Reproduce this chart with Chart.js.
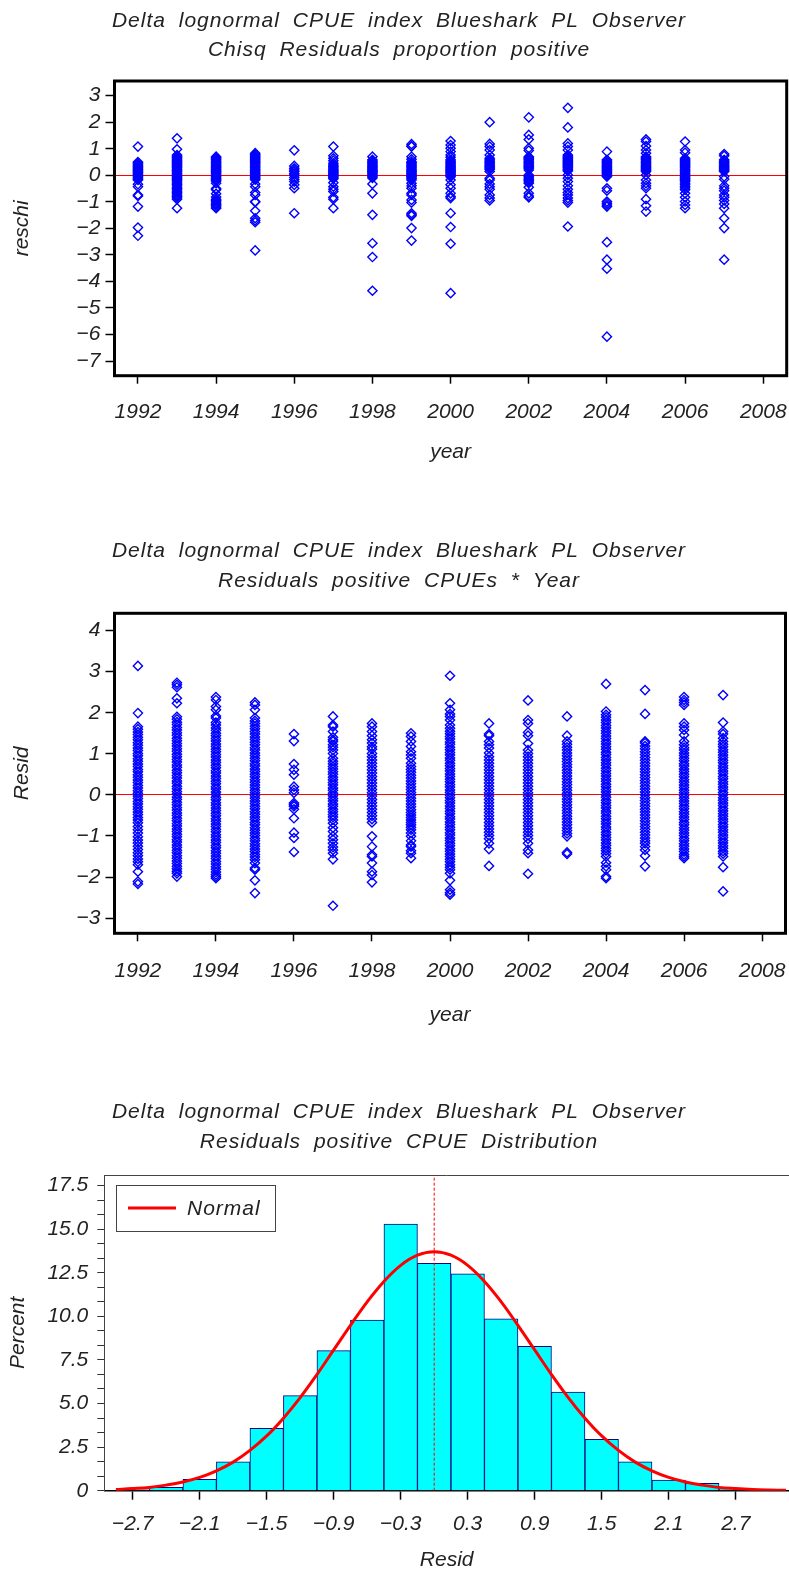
<!DOCTYPE html>
<html>
<head>
<meta charset="utf-8">
<script src="https://cdn.jsdelivr.net/npm/chart.js@4.4.1/dist/chart.umd.min.js"></script>
<style>
  html, body { margin: 0; padding: 0; background: #fff; overflow: hidden; }
  canvas { position: absolute; left: 0; display: block; }
</style>
</head>
<body>
<canvas id="c1" width="789" height="500" style="top:0"></canvas>
<canvas id="c2" width="789" height="560" style="top:500px"></canvas>
<canvas id="c3" width="789" height="513" style="top:1060px"></canvas>
<script>
// ── Data ───────────────────────────────────────────────────────────────
const years = [1992, 1993, 1994, 1995, 1996, 1997, 1998, 1999, 2000, 2001, 2002, 2003, 2004, 2005, 2006, 2007];
const yearTicks = [1992, 1994, 1996, 1998, 2000, 2002, 2004, 2006, 2008];
const reschiTicks = [-7, -6, -5, -4, -3, -2, -1, 0, 1, 2, 3];
const residTicks = [-3, -2, -1, 0, 1, 2, 3, 4];

// Chisq residuals, proportion positive
const reschi1992 = [1.08, 0.50, 0.46, 0.42, 0.38, 0.34, 0.30, 0.26, 0.22, 0.18, 0.14, 0.10, 0.06, 0.02, -0.02, -0.06, -0.10, -0.14, -0.18, -0.34, -0.43, -0.74, -0.78, -1.18, -1.97, -2.28];
const reschi1993 = [1.39, 0.98, 0.76, 0.72, 0.68, 0.64, 0.60, 0.56, 0.52, 0.48, 0.44, 0.40, 0.36, 0.32, 0.28, 0.24, 0.20, 0.16, 0.12, 0.08, 0.04, 0.00, -0.04, -0.08, -0.12, -0.16, -0.20, -0.25, -0.30, -0.35, -0.40, -0.45, -0.50, -0.55, -0.60, -0.65, -0.70, -0.75, -0.80, -0.85, -0.90, -1.24];
const reschi1994 = [0.70, 0.66, 0.62, 0.58, 0.54, 0.50, 0.46, 0.42, 0.38, 0.34, 0.30, 0.26, 0.22, 0.18, 0.14, 0.10, 0.06, 0.02, -0.02, -0.06, -0.10, -0.14, -0.18, -0.22, -0.30, -0.50, -0.55, -0.70, -0.82, -0.90, -0.95, -1.00, -1.05, -1.10, -1.15, -1.20, -1.24];
const reschi1995 = [0.83, 0.79, 0.75, 0.71, 0.67, 0.63, 0.59, 0.55, 0.51, 0.47, 0.43, 0.39, 0.35, 0.31, 0.27, 0.23, 0.19, 0.15, 0.11, 0.07, 0.03, -0.01, -0.05, -0.09, -0.13, -0.17, -0.33, -0.43, -0.65, -0.74, -0.99, -1.01, -1.34, -1.62, -1.70, -1.77, -2.83];
const reschi1996 = [0.94, 0.35, 0.26, 0.20, 0.14, 0.07, 0.01, -0.08, -0.16, -0.24, -0.36, -0.49, -1.43];
const reschi1997 = [1.08, 0.73, 0.64, 0.55, 0.45, 0.39, 0.35, 0.31, 0.27, 0.23, 0.19, 0.15, 0.11, 0.07, 0.03, -0.01, -0.05, -0.09, -0.13, -0.28, -0.43, -0.53, -0.61, -0.83, -0.90, -1.24];
const reschi1998 = [0.70, 0.58, 0.54, 0.50, 0.46, 0.42, 0.38, 0.34, 0.30, 0.26, 0.22, 0.18, 0.14, 0.10, 0.06, 0.02, -0.02, -0.06, -0.10, -0.33, -0.68, -1.49, -2.56, -3.08, -4.35];
const reschi1999 = [1.17, 1.10, 1.08, 0.70, 0.60, 0.51, 0.47, 0.43, 0.39, 0.35, 0.31, 0.27, 0.23, 0.19, 0.15, 0.11, 0.07, 0.03, -0.01, -0.05, -0.09, -0.13, -0.18, -0.30, -0.40, -0.49, -0.68, -0.74, -0.93, -1.03, -1.43, -1.49, -1.53, -1.99, -2.46];
const reschi2000 = [1.29, 1.14, 1.02, 0.89, 0.76, 0.68, 0.58, 0.54, 0.50, 0.46, 0.42, 0.38, 0.34, 0.30, 0.26, 0.22, 0.18, 0.14, 0.10, 0.06, 0.02, -0.02, -0.06, -0.18, -0.36, -0.49, -0.68, -0.80, -0.86, -1.43, -1.95, -2.58, -4.44];
const reschi2001 = [2.00, 1.18, 1.08, 0.95, 0.76, 0.64, 0.58, 0.54, 0.50, 0.46, 0.42, 0.38, 0.34, 0.30, 0.26, 0.22, 0.14, -0.11, -0.18, -0.33, -0.43, -0.53, -0.74, -0.86, -0.95];
const reschi2002 = [2.18, 1.52, 1.35, 1.02, 0.93, 0.70, 0.66, 0.62, 0.58, 0.54, 0.50, 0.46, 0.42, 0.38, 0.34, 0.30, 0.26, 0.20, 0.01, -0.05, -0.10, -0.15, -0.20, -0.25, -0.30, -0.45, -0.68, -0.78, -0.83];
const reschi2003 = [2.54, 1.80, 1.20, 1.08, 0.95, 0.76, 0.72, 0.68, 0.64, 0.60, 0.56, 0.52, 0.48, 0.44, 0.40, 0.36, 0.32, 0.28, 0.24, 0.20, 0.16, 0.01, -0.11, -0.24, -0.40, -0.53, -0.65, -0.74, -0.86, -0.95, -1.03, -1.93];
const reschi2004 = [0.89, 0.58, 0.54, 0.50, 0.46, 0.42, 0.38, 0.34, 0.30, 0.26, 0.22, 0.18, 0.14, 0.10, 0.06, 0.02, -0.02, -0.05, -0.49, -0.58, -0.99, -1.05, -1.12, -1.18, -2.52, -3.18, -3.52, -6.08];
const reschi2005 = [1.35, 1.27, 1.10, 0.95, 0.83, 0.70, 0.66, 0.62, 0.58, 0.54, 0.50, 0.46, 0.42, 0.38, 0.34, 0.30, 0.26, 0.22, 0.18, 0.14, 0.01, -0.18, -0.30, -0.40, -0.49, -0.90, -1.15, -1.37];
const reschi2006 = [1.27, 0.95, 0.85, 0.64, 0.60, 0.56, 0.52, 0.48, 0.44, 0.40, 0.36, 0.32, 0.28, 0.24, 0.20, 0.16, 0.12, 0.08, 0.04, 0.00, -0.04, -0.08, -0.12, -0.16, -0.20, -0.24, -0.30, -0.36, -0.42, -0.48, -0.55, -0.68, -0.83, -0.99, -1.12, -1.24];
const reschi2007 = [0.80, 0.73, 0.58, 0.54, 0.50, 0.46, 0.42, 0.38, 0.34, 0.30, 0.26, 0.22, 0.18, 0.14, -0.05, -0.15, -0.40, -0.49, -0.58, -0.74, -0.83, -0.95, -1.08, -1.24, -1.62, -1.99, -3.18];

// Residuals of positive CPUEs
const resid1992 = [3.14, 1.99, 1.66, 1.60, 1.53, 1.47, 1.40, 1.34, 1.27, 1.21, 1.14, 1.08, 1.01, 0.95, 0.88, 0.82, 0.75, 0.69, 0.62, 0.56, 0.49, 0.43, 0.36, 0.30, 0.23, 0.17, 0.10, 0.04, -0.03, -0.09, -0.16, -0.22, -0.29, -0.35, -0.42, -0.48, -0.55, -0.61, -0.68, -0.77, -0.85, -0.93, -1.02, -1.10, -1.17, -1.25, -1.33, -1.41, -1.48, -1.56, -1.63, -1.70, -1.87, -2.11, -2.17];
const resid1993 = [2.73, 2.68, 2.62, 2.35, 2.23, 1.90, 1.84, 1.77, 1.71, 1.64, 1.58, 1.51, 1.45, 1.38, 1.32, 1.25, 1.19, 1.12, 1.06, 0.99, 0.93, 0.86, 0.80, 0.73, 0.67, 0.60, 0.54, 0.47, 0.41, 0.34, 0.28, 0.21, 0.15, 0.08, 0.02, -0.05, -0.11, -0.18, -0.24, -0.31, -0.37, -0.44, -0.50, -0.57, -0.63, -0.70, -0.76, -0.83, -0.89, -0.96, -1.02, -1.09, -1.15, -1.22, -1.28, -1.35, -1.41, -1.48, -1.54, -1.61, -1.67, -1.74, -1.80, -1.86, -1.91, -1.99];
const resid1994 = [2.38, 2.31, 2.15, 2.07, 1.92, 1.87, 1.76, 1.70, 1.63, 1.57, 1.50, 1.44, 1.37, 1.31, 1.24, 1.18, 1.11, 1.05, 0.98, 0.92, 0.85, 0.79, 0.72, 0.66, 0.59, 0.53, 0.46, 0.40, 0.33, 0.27, 0.20, 0.14, 0.07, 0.01, -0.06, -0.12, -0.19, -0.25, -0.32, -0.38, -0.45, -0.51, -0.58, -0.64, -0.71, -0.77, -0.84, -0.90, -0.97, -1.03, -1.10, -1.16, -1.23, -1.29, -1.36, -1.42, -1.49, -1.55, -1.62, -1.68, -1.75, -1.81, -1.88, -1.94, -1.99, -2.03];
const resid1995 = [2.25, 2.19, 2.07, 1.87, 1.80, 1.74, 1.67, 1.61, 1.54, 1.48, 1.41, 1.35, 1.28, 1.22, 1.15, 1.09, 1.02, 0.96, 0.89, 0.83, 0.76, 0.70, 0.63, 0.57, 0.50, 0.44, 0.37, 0.31, 0.24, 0.18, 0.11, 0.05, -0.02, -0.08, -0.15, -0.21, -0.28, -0.34, -0.41, -0.47, -0.54, -0.60, -0.67, -0.73, -0.80, -0.86, -0.93, -0.99, -1.06, -1.12, -1.19, -1.25, -1.32, -1.38, -1.45, -1.51, -1.58, -1.66, -1.78, -1.82, -2.08, -2.39];
const resid1996 = [1.48, 1.31, 0.75, 0.61, 0.49, 0.20, 0.12, 0.05, -0.20, -0.24, -0.28, -0.35, -0.57, -0.92, -1.05, -1.39];
const resid1997 = [1.91, 1.70, 1.66, 1.54, 1.40, 1.34, 1.30, 1.22, 1.16, 1.09, 1.01, 0.89, 0.82, 0.76, 0.69, 0.63, 0.56, 0.50, 0.43, 0.37, 0.30, 0.24, 0.17, 0.11, 0.04, -0.02, -0.09, -0.15, -0.22, -0.28, -0.35, -0.41, -0.48, -0.54, -0.61, -0.69, -0.80, -0.89, -1.01, -1.09, -1.18, -1.27, -1.34, -1.42, -1.57, -2.70];
const resid1998 = [1.74, 1.66, 1.54, 1.44, 1.34, 1.26, 1.17, 1.11, 1.01, 0.93, 0.85, 0.77, 0.69, 0.61, 0.53, 0.45, 0.37, 0.29, 0.21, 0.13, 0.05, -0.03, -0.11, -0.19, -0.27, -0.35, -0.43, -0.51, -0.59, -0.67, -1.01, -1.26, -1.46, -1.50, -1.66, -1.87, -1.95, -2.13];
const resid1999 = [1.50, 1.42, 1.30, 1.18, 1.05, 0.97, 0.89, 0.77, 0.69, 0.62, 0.55, 0.48, 0.41, 0.34, 0.27, 0.20, 0.13, 0.06, -0.01, -0.08, -0.15, -0.22, -0.29, -0.36, -0.43, -0.49, -0.55, -0.61, -0.67, -0.73, -0.79, -0.85, -0.93, -1.01, -1.12, -1.22, -1.26, -1.36, -1.42, -1.54];
const resid2000 = [2.90, 2.23, 2.07, 1.97, 1.91, 1.82, 1.70, 1.62, 1.55, 1.49, 1.42, 1.36, 1.29, 1.23, 1.16, 1.10, 1.03, 0.97, 0.90, 0.84, 0.77, 0.71, 0.64, 0.58, 0.51, 0.45, 0.38, 0.32, 0.25, 0.19, 0.12, 0.06, -0.01, -0.07, -0.14, -0.20, -0.27, -0.33, -0.40, -0.46, -0.53, -0.59, -0.66, -0.72, -0.79, -0.85, -0.92, -0.98, -1.05, -1.11, -1.18, -1.24, -1.31, -1.37, -1.44, -1.50, -1.57, -1.63, -1.70, -1.76, -1.82, -1.91, -2.08, -2.31, -2.38, -2.43];
const resid2001 = [1.74, 1.48, 1.44, 1.30, 1.22, 1.14, 1.02, 0.93, 0.85, 0.77, 0.69, 0.61, 0.53, 0.45, 0.37, 0.29, 0.21, 0.13, 0.05, -0.03, -0.11, -0.19, -0.27, -0.35, -0.43, -0.51, -0.59, -0.67, -0.75, -0.83, -0.91, -0.99, -1.07, -1.18, -1.32, -1.73];
const resid2002 = [2.30, 1.82, 1.74, 1.52, 1.44, 1.25, 1.09, 1.01, 0.93, 0.85, 0.77, 0.69, 0.61, 0.53, 0.45, 0.37, 0.29, 0.21, 0.13, 0.05, -0.03, -0.11, -0.19, -0.27, -0.35, -0.43, -0.51, -0.59, -0.67, -0.75, -0.83, -0.91, -0.99, -1.07, -1.18, -1.34, -1.42, -1.92];
const resid2003 = [1.91, 1.44, 1.30, 1.23, 1.16, 1.09, 1.02, 0.95, 0.88, 0.81, 0.74, 0.67, 0.60, 0.53, 0.46, 0.39, 0.32, 0.25, 0.18, 0.11, 0.04, -0.03, -0.10, -0.17, -0.24, -0.31, -0.38, -0.45, -0.52, -0.59, -0.66, -0.73, -0.80, -0.87, -0.94, -1.01, -1.40, -1.44];
const resid2004 = [2.70, 2.03, 1.95, 1.89, 1.82, 1.76, 1.69, 1.63, 1.56, 1.50, 1.43, 1.37, 1.30, 1.24, 1.17, 1.11, 1.04, 0.98, 0.91, 0.85, 0.78, 0.72, 0.65, 0.59, 0.52, 0.46, 0.39, 0.33, 0.26, 0.20, 0.13, 0.07, 0.00, -0.06, -0.13, -0.19, -0.26, -0.32, -0.39, -0.45, -0.52, -0.58, -0.65, -0.71, -0.78, -0.84, -0.91, -0.97, -1.04, -1.10, -1.17, -1.23, -1.30, -1.36, -1.43, -1.50, -1.65, -1.74, -1.82, -1.99, -2.03];
const resid2005 = [2.55, 1.97, 1.30, 1.26, 1.19, 1.12, 1.05, 0.98, 0.91, 0.84, 0.77, 0.70, 0.63, 0.56, 0.49, 0.42, 0.35, 0.28, 0.21, 0.14, 0.07, 0.00, -0.07, -0.14, -0.21, -0.28, -0.35, -0.42, -0.49, -0.56, -0.63, -0.70, -0.77, -0.84, -0.91, -0.98, -1.05, -1.12, -1.18, -1.26, -1.34, -1.48, -1.74];
const resid2006 = [2.38, 2.31, 2.25, 2.19, 1.74, 1.66, 1.58, 1.46, 1.30, 1.22, 1.15, 1.09, 1.02, 0.96, 0.89, 0.83, 0.76, 0.70, 0.63, 0.57, 0.50, 0.44, 0.37, 0.31, 0.24, 0.18, 0.11, 0.05, -0.02, -0.08, -0.15, -0.21, -0.28, -0.34, -0.41, -0.47, -0.54, -0.60, -0.67, -0.73, -0.80, -0.86, -0.93, -0.99, -1.06, -1.12, -1.19, -1.25, -1.32, -1.38, -1.45, -1.50, -1.54];
const resid2007 = [2.43, 1.76, 1.54, 1.48, 1.38, 1.30, 1.23, 1.17, 1.10, 1.04, 0.97, 0.91, 0.84, 0.78, 0.71, 0.65, 0.58, 0.52, 0.45, 0.39, 0.32, 0.26, 0.19, 0.13, 0.06, 0.00, -0.07, -0.13, -0.20, -0.26, -0.33, -0.39, -0.46, -0.52, -0.59, -0.65, -0.72, -0.78, -0.85, -0.91, -0.98, -1.04, -1.11, -1.17, -1.24, -1.30, -1.37, -1.43, -1.50, -1.76, -2.35];

// Distribution of positive CPUE residuals
const binMid = [-2.7, -2.4, -2.1, -1.8, -1.5, -1.2, -0.9, -0.6, -0.3, 0, 0.3, 0.6, 0.9, 1.2, 1.5, 1.8, 2.1, 2.4, 2.7, 3.0];
const binPct = [0.05, 0.19, 0.65, 1.66, 3.58, 5.45, 8.03, 9.78, 15.29, 13.04, 12.43, 9.85, 8.27, 5.65, 2.94, 1.66, 0.61, 0.42, 0.13, 0.05];
const normX = [-2.85, -2.7, -2.55, -2.4, -2.25, -2.1, -1.95, -1.8, -1.65, -1.5, -1.35, -1.2, -1.05, -0.9, -0.75, -0.6, -0.45, -0.3, -0.15, 0,
               0.15, 0.3, 0.45, 0.6, 0.75, 0.9, 1.05, 1.2, 1.35, 1.5, 1.65, 1.8, 1.95, 2.1, 2.25, 2.4, 2.55, 2.7, 2.85, 3.0, 3.15];
const normPct = [0.07, 0.12, 0.19, 0.32, 0.50, 0.76, 1.14, 1.64, 2.31, 3.14, 4.16, 5.34, 6.66, 8.07, 9.48, 10.83, 12.00, 12.92, 13.50, 13.70,
                 13.50, 12.92, 12.00, 10.83, 9.48, 8.07, 6.66, 5.34, 4.16, 3.14, 2.31, 1.64, 1.14, 0.76, 0.50, 0.32, 0.19, 0.12, 0.07, 0.04, 0.02];
const residMean = 0;
const histTicks = [-2.7, -2.1, -1.5, -0.9, -0.3, 0.3, 0.9, 1.5, 2.1, 2.7];
const pctTicks = [0, 2.5, 5, 7.5, 10, 12.5, 15, 17.5];

const reschiByYear = [reschi1992, reschi1993, reschi1994, reschi1995, reschi1996, reschi1997, reschi1998, reschi1999,
                      reschi2000, reschi2001, reschi2002, reschi2003, reschi2004, reschi2005, reschi2006, reschi2007];
const residByYear = [resid1992, resid1993, resid1994, resid1995, resid1996, resid1997, resid1998, resid1999,
                     resid2000, resid2001, resid2002, resid2003, resid2004, resid2005, resid2006, resid2007];

// ── Styling ────────────────────────────────────────────────────────────
const FONT = '"Liberation Sans", Arial, sans-serif';
const INK = '#222';
Chart.defaults.font.family = FONT;
Chart.defaults.font.size = 21;
Chart.defaults.font.style = 'italic';
Chart.defaults.color = INK;

const minus = v => v < 0 ? '\u2212' + Math.abs(v) : String(v);
const minus1 = v => (v < 0 ? '\u2212' : '') + Math.abs(v).toFixed(1);
const toTicks = arr => arr.map(v => ({ value: v }));
// keep edge labels from squeezing the plot frame
const noEdgePad = s => { s.paddingLeft = 0; s.paddingRight = 0; s.paddingTop = 0; s.paddingBottom = 0; };

// two centred title lines, SAS style wide spacing
const titlePlugin = (lines, ys) => ({
    id: 'titleLines',
    afterDraw(chart) {
        const ctx = chart.ctx;
        ctx.save();
        ctx.font = 'italic 21px ' + FONT;
        ctx.fillStyle = INK;
        ctx.textAlign = 'center';
        ctx.textBaseline = 'middle';
        if ('letterSpacing' in ctx) ctx.letterSpacing = '1px';
        if ('wordSpacing' in ctx) ctx.wordSpacing = '6px';
        lines.forEach((t, i) => ctx.fillText(t, 399, ys[i]));
        ctx.restore();
    }
});

const heavyFrame = {
    id: 'heavyFrame',
    afterDraw(chart) {
        const { ctx, chartArea: a } = chart;
        ctx.save();
        ctx.strokeStyle = '#000';
        ctx.lineWidth = 3;
        ctx.strokeRect(a.left, a.top, a.right - a.left, a.bottom - a.top);
        ctx.restore();
    }
};

function scatterChart(id, lines, titleYs, yTitle, values, yMin, yMax, yTicks, box) {
    const points = years.flatMap((yr, i) => values[i].map(v => ({ x: yr, y: v })));
    return new Chart(document.getElementById(id), {
        type: 'scatter',
        data: {
            datasets: [{
                label: yTitle, data: points,
                pointStyle: 'rectRot', pointRadius: 4.6, pointBorderWidth: 1.4,
                pointBorderColor: '#0000ff', pointBackgroundColor: 'rgba(0,0,0,0)'
            }]
        },
        options: {
            responsive: false, animation: false, events: [],
            layout: { autoPadding: false, padding: { top: box.top, right: box.right, left: 0, bottom: 0 } },
            plugins: { legend: { display: false }, tooltip: { enabled: false } },
            scales: {
                x: {
                    type: 'linear', min: 1991.4, max: 2008.6,
                    afterBuildTicks: s => { s.ticks = toTicks(yearTicks); },
                    afterFit: s => { s.height = box.xH; noEdgePad(s); },
                    border: { display: false },
                    grid: { drawOnChartArea: false, tickLength: 8, tickColor: '#000', tickWidth: 1.5 },
                    ticks: { padding: box.xTickPad, autoSkip: false, maxRotation: 0, callback: v => String(v) },
                    title: { display: true, text: 'year', padding: { top: 0, bottom: box.xTitlePad } }
                },
                y: {
                    type: 'linear', min: yMin, max: yMax,
                    afterBuildTicks: s => { s.ticks = toTicks(yTicks); },
                    afterFit: s => { s.width = 114.5; noEdgePad(s); },
                    border: { display: false },
                    grid: {
                        color: c => (c.tick && c.tick.value === 0) ? '#ff0000' : 'rgba(0,0,0,0)',
                        lineWidth: 1, tickLength: 9, tickColor: '#000', tickWidth: 1.5
                    },
                    ticks: { padding: 5, autoSkip: false, callback: minus },
                    title: { display: true, text: yTitle, padding: { top: 9.4, bottom: 0 } }
                }
            }
        },
        plugins: [titlePlugin(lines, titleYs), heavyFrame]
    });
}

// ── Chart 1: chisq residuals ───────────────────────────────────────────
scatterChart('c1',
    ['Delta lognormal CPUE index Blueshark PL Observer', 'Chisq Residuals proportion positive'], [21.5, 50.5],
    'reschi', reschiByYear, -7.55, 3.55, reschiTicks,
    { top: 81, right: 2.3, xH: 124.3, xTitlePad: 35, xTickPad: 16 });

// ── Chart 2: residuals positive CPUEs ──────────────────────────────────
scatterChart('c2',
    ['Delta lognormal CPUE index Blueshark PL Observer', 'Residuals positive CPUEs * Year'], [50.7, 81.2],
    'Resid', residByYear, -3.37, 4.42, residTicks,
    { top: 113.3, right: 3.5, xH: 126.7, xTitlePad: 32.4, xTickPad: 17 });

// ── Chart 3: residual distribution ─────────────────────────────────────
const pctAll = pctTicks.flatMap((p, i) => i < pctTicks.length - 1 ? [p, p + 2.5 / 3, p + 5 / 3] : [p]);

const histFrame = {
    id: 'histFrame',
    afterDraw(chart) {
        const { ctx, chartArea: a } = chart;
        ctx.save();
        ctx.strokeStyle = '#444';
        ctx.lineWidth = 1;
        ctx.beginPath();
        ctx.moveTo(a.left, a.top + 0.5);
        ctx.lineTo(a.right, a.top + 0.5);
        ctx.stroke();
        // legend box
        const ds = chart.data.datasets[0];
        ctx.fillStyle = '#fff';
        ctx.fillRect(116, 125, 159, 46);
        ctx.strokeRect(116.5, 125.5, 159, 46);
        ctx.strokeStyle = ds.borderColor;
        ctx.lineWidth = 3;
        ctx.beginPath();
        ctx.moveTo(128, 148);
        ctx.lineTo(176, 148);
        ctx.stroke();
        ctx.font = 'italic 21px ' + FONT;
        ctx.fillStyle = INK;
        ctx.textBaseline = 'middle';
        if ('letterSpacing' in ctx) ctx.letterSpacing = '1px';
        ctx.fillText(ds.label, 187, 149);
        ctx.restore();
    }
};

new Chart(document.getElementById('c3'), {
    type: 'bar',
    data: {
        datasets: [
            {
                type: 'line', label: 'Normal', data: normX.map((x, i) => ({ x, y: normPct[i] })),
                borderColor: '#ff0000', borderWidth: 3, pointRadius: 0, tension: 0.4, order: 1
            },
            {
                type: 'line', label: 'Mean', data: [{ x: residMean, y: 0 }, { x: residMean, y: 18.1 }],
                borderColor: '#ff0000', borderWidth: 1, borderDash: [3, 2], pointRadius: 0, order: 2
            },
            {
                type: 'bar', label: 'Percent', data: binMid.map((x, i) => ({ x, y: binPct[i] })),
                backgroundColor: '#00ffff', borderColor: '#000080', borderWidth: 1,
                barPercentage: 1, categoryPercentage: 1, order: 3
            }
        ]
    },
    options: {
        responsive: false, animation: false, events: [],
        layout: { autoPadding: false, padding: { top: 115, right: 0, left: 0, bottom: 0 } },
        plugins: { legend: { display: false }, tooltip: { enabled: false } },
        scales: {
            x: {
                type: 'linear', min: -2.954, max: 3.177, offset: false,
                afterBuildTicks: s => { s.ticks = toTicks(histTicks); },
                afterFit: s => { s.height = 82.3; noEdgePad(s); },
                border: { display: true, color: '#000', width: 1.5 },
                grid: { drawOnChartArea: false, offset: false, tickLength: 9, tickColor: '#000', tickWidth: 1.5 },
                ticks: { padding: 12, autoSkip: false, maxRotation: 0, callback: minus1 },
                title: { display: true, text: 'Resid', padding: { top: 0, bottom: 0 } }
            },
            y: {
                type: 'linear', min: 0, max: 18.1,
                afterBuildTicks: s => { s.ticks = toTicks(pctAll); },
                afterFit: s => { s.width = 104.3; noEdgePad(s); },
                border: { display: true, color: '#444', width: 1 },
                grid: { drawOnChartArea: false, tickLength: 7, tickColor: '#333', tickWidth: 1 },
                ticks: {
                    padding: 9, autoSkip: false,
                    callback: v => {
                        const major = pctTicks.find(p => Math.abs(p - v) < 1e-6);
                        if (major === undefined) return '';
                        return major === 0 ? '0' : major.toFixed(1);
                    }
                },
                title: { display: true, text: 'Percent', padding: { top: 5.4, bottom: 0 } }
            }
        }
    },
    plugins: [titlePlugin(['Delta lognormal CPUE index Blueshark PL Observer', 'Residuals positive CPUE Distribution'], [51.7, 81.7]), histFrame]
});
</script>
</body>
</html>
